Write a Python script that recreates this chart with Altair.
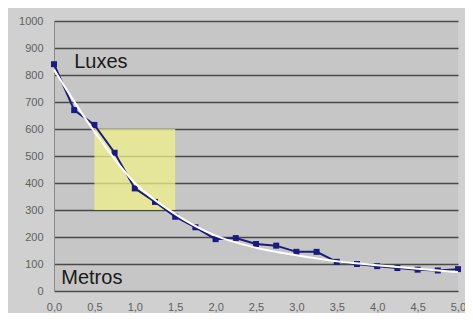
import altair as alt
import pandas as pd

metros = [0.0, 0.25, 0.5, 0.75, 1.0, 1.25, 1.5, 1.75, 2.0, 2.25, 2.5, 2.75, 3.0, 3.25, 3.5, 3.75, 4.0, 4.25, 4.5, 4.75, 5.0]
luxes = [840, 670, 615, 512, 380, 330, 275, 236, 192, 196, 174, 168, 145, 145, 108, 100, 92, 85, 79, 76, 81]

trend_x = [0.0, 0.5, 1.0, 1.5, 2.0, 2.5, 3.0, 3.5, 4.0, 4.5, 5.0]
trend_y = [820, 590, 400, 285, 205, 160, 132, 110, 95, 82, 70]

box_x = [0.5]
box_x2 = [1.5]
box_y = [600]
box_y2 = [300]

labels = ["Luxes", "Metros"]
label_x = [0.25, 0.09]
label_y = [850, 50]

pts = pd.DataFrame({"m": metros, "l": luxes})
trend = pd.DataFrame({"m": trend_x, "l": trend_y})
box = pd.DataFrame({"x": box_x, "x2": box_x2, "y": box_y, "y2": box_y2})
lab = pd.DataFrame({"t": labels, "x": label_x, "y": label_y})

xs = alt.Scale(domain=[0, 5], nice=False)
ys = alt.Scale(domain=[0, 1000], nice=False)

xaxis = alt.Axis(values=[0, 0.5, 1, 1.5, 2, 2.5, 3, 3.5, 4, 4.5, 5],
                 labelExpr="replace(format(datum.value, '.1f'), '.', ',')",
                 grid=False, ticks=False, domain=False, labelPadding=10,
                 labelFontSize=11, labelColor="#606060", title=None,
                 labelOverlap=False, labelFlush=False,
                 labelFont="Liberation Sans Narrow, Liberation Sans")
yaxis = alt.Axis(values=[0, 100, 200, 300, 400, 500, 600, 700, 800, 900, 1000],
                 format="d", grid=True, gridColor="#4a4a4a",
                 gridWidth=1.5, ticks=False, domain=True, domainColor="#8a8a8a",
                 labelPadding=11, labelFontSize=11, labelColor="#606060", title=None,
                 labelOverlap=False, labelFlush=False, tickCount=11,
                 labelFont="Liberation Sans Narrow, Liberation Sans")

rect = alt.Chart(box).mark_rect(color="#f0f08c", opacity=0.75).encode(
    x=alt.X("x:Q", scale=xs, axis=xaxis), x2="x2:Q",
    y=alt.Y("y:Q", scale=ys, axis=yaxis), y2="y2:Q")

line = alt.Chart(pts).mark_line(color="#1c1c78", strokeWidth=2).encode(
    x=alt.X("m:Q", scale=xs, axis=xaxis), y=alt.Y("l:Q", scale=ys, axis=yaxis))
points = alt.Chart(pts).mark_square(color="#1a1a80", size=36, opacity=1).encode(
    x=alt.X("m:Q", scale=xs, axis=xaxis), y=alt.Y("l:Q", scale=ys, axis=yaxis))
tr = alt.Chart(trend).mark_line(color="white", strokeWidth=2, interpolate="monotone").encode(
    x=alt.X("m:Q", scale=xs, axis=xaxis), y=alt.Y("l:Q", scale=ys, axis=yaxis))
text = alt.Chart(lab).mark_text(align="left", baseline="middle", fontSize=20,
                                 font="Liberation Sans Narrow, Liberation Sans", color="#1a1a1a").encode(
    x=alt.X("x:Q", scale=xs, axis=xaxis), y=alt.Y("y:Q", scale=ys, axis=yaxis), text="t:N")

chart = alt.layer(rect, line, points, tr, text).properties(
    width=404, height=270,
    autosize=alt.AutoSizeParams(type="none"),
    padding={"left": 46, "top": 13, "right": 7, "bottom": 22},
    background="#d0d0d0",
).configure_view(fill="#c6c6c6", stroke=None)

chart.save("out.html", embed_options={"renderer": "svg", "actions": False})
